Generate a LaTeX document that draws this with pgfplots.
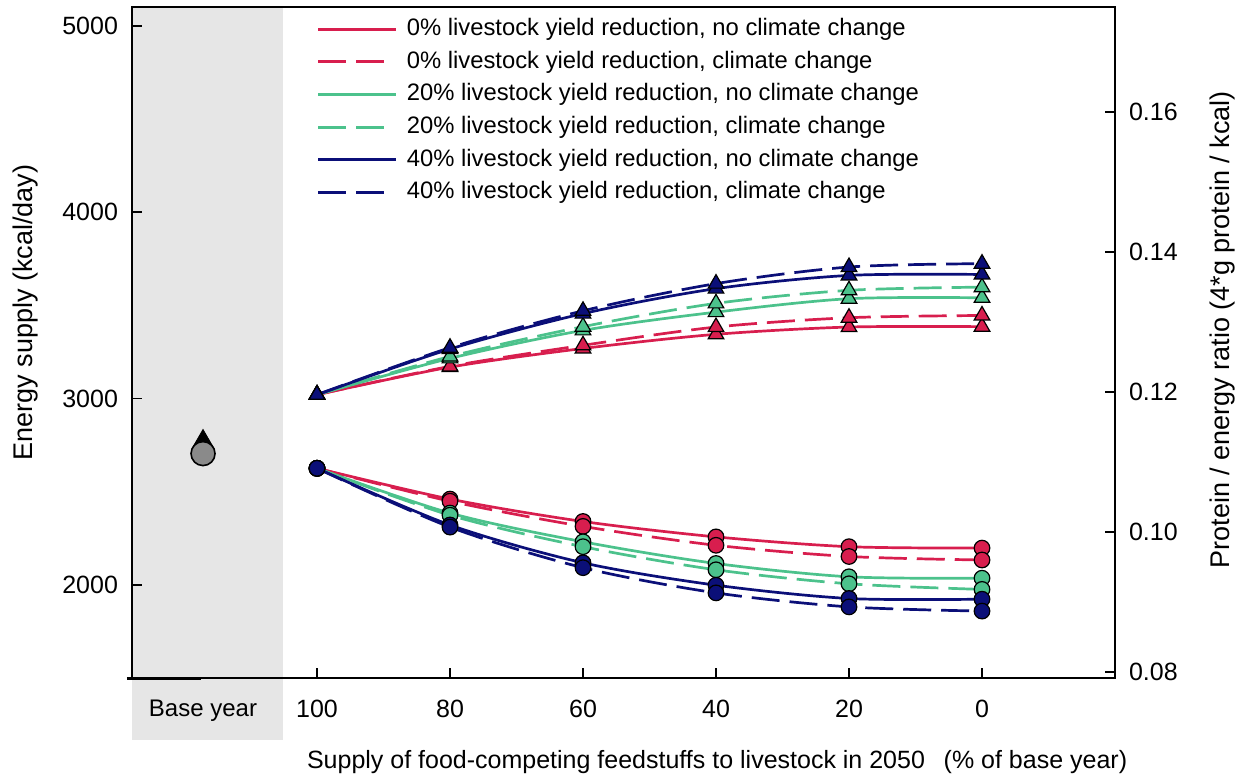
\documentclass[border=0pt]{standalone}
\usepackage{fontspec}
\setmainfont{Liberation Sans}
\usepackage{pgfplots}
\pgfplotsset{compat=1.18}

\definecolor{cred}{HTML}{D81E4E}
\definecolor{cgreen}{HTML}{4CC28C}
\definecolor{cblue}{HTML}{0B0F78}
\definecolor{bandgray}{HTML}{E6E6E6}
\definecolor{basegray}{HTML}{8A8A8A}

% x position: 0 = 100 % of base-year feed supply, 100 = 0 %
% Energy supply (kcal/day)
\pgfplotstableread{
x  rs    rd    gs    gd    bs    bd
0   3020  3020  3020  3020  3020  3020
20  3168  3172  3215  3225  3265  3272
40  3268  3285  3365  3385  3455  3470
60  3344  3383  3463  3510  3589  3616
80  3383  3433  3535  3580  3660  3705
100 3385  3445  3540  3597  3665  3723
}\energy
% Protein / energy ratio
\pgfplotstableread{
x  rs     rd     gs     gd     bs     bd
0   0.1091 0.1091 0.1091 0.1091 0.1091 0.1091
20  0.1047 0.1044 0.1027 0.1024 0.1010 0.1007
40  0.1015 0.1008 0.0986 0.0979 0.0956 0.0949
60  0.0993 0.0981 0.0955 0.0946 0.0924 0.0913
80  0.0979 0.0965 0.0936 0.0926 0.0905 0.0893
100 0.0977 0.0960 0.0934 0.0918 0.0904 0.0887
}\ratio

\pgfplotsset{
  common/.style={
    width=491.5pt, height=335.5pt, scale only axis,
    xmin=-27.82, xmax=120, clip=false,
    axis line style={line width=0.9pt},
    tick style={line width=0.9pt, black},
    major tick length=5pt, tick align=inside,
    /pgf/number format/assume math mode=true,
    /pgf/number format/1000 sep={},
    tick label style={font=\fontsize{12.5}{14}\selectfont},
    label style={font=\fontsize{13.5}{16}\selectfont},
  },
  curve/.style={line width=1.35pt, smooth, tension=0.5, no marks, color=#1},
  cc/.style={dash pattern=on 14pt off 5pt,
    legend image code/.code={\draw[##1, line width=1.45pt] (0pt,0pt) -- (33pt,0pt);}},
  tri/.style={only marks, mark=triangle*, mark size=4.5pt,
    mark options={draw=black, line width=0.6pt, fill=#1, solid}, forget plot},
  circ/.style={only marks, mark=*, mark size=3.9pt,
    mark options={draw=black, line width=0.6pt, fill=#1, solid}, forget plot},
}

\begin{document}
\begin{tikzpicture}
\begin{axis}[common, axis on top,
  ymin=1500, ymax=5100,
  ytick={2000,3000,4000,5000},
  xtick={0,20,40,60,80,100},
  xticklabels={100,80,60,40,20,0},
  extra x ticks={-17.14},
  extra x tick labels={Base year},
  extra x tick style={major tick length=0pt,
    tick label style={font=\fontsize{12}{14}\selectfont}},
  xtick pos=bottom, ytick pos=left,
  xticklabel style={yshift=-7.5pt},
  yticklabel style={xshift=-3.5pt},
  ylabel={Energy supply (kcal/day)},
  ylabel style={at={(axis description cs:-0.1088,0.545)}, anchor=center},
  xlabel={Supply of food-competing feedstuffs to livestock in 2050\hspace{0.75em}(\% of base year)},
  xlabel style={at={(axis description cs:0.1709,-0.125)}, anchor=west,
    font=\fontsize{12.5}{14}\selectfont},
  legend style={at={(axis description cs:0.1882,0.9841)}, anchor=north west,
    draw=none, fill=none, inner sep=0pt, outer sep=0pt, row sep=4.7pt,
    font=\fontsize{11.9}{14}\selectfont,
    nodes={inner sep=0pt, text height=9pt, text depth=2.6pt},
    /tikz/every odd column/.append style={column sep=4.5pt}},
  legend cell align=left,
  legend image code/.code={\draw[#1, line width=1.45pt] (0pt,0pt) -- (39pt,0pt);},
]
  % base-year column
  \fill[bandgray] (axis cs:-27.82,5100) rectangle (axis cs:-5.11,1167);
  \draw[line width=1.5pt] (axis cs:-28.6,1500) -- (axis cs:-17.4,1500);

  \addplot[curve=cred]       table[x=x,y=rs] {\energy};
  \addlegendentry{0\% livestock yield reduction, no climate change}
  \addplot[curve=cred, cc]   table[x=x,y=rd] {\energy};
  \addlegendentry{0\% livestock yield reduction, climate change}
  \addplot[curve=cgreen]     table[x=x,y=gs] {\energy};
  \addlegendentry{20\% livestock yield reduction, no climate change}
  \addplot[curve=cgreen, cc] table[x=x,y=gd] {\energy};
  \addlegendentry{20\% livestock yield reduction, climate change}
  \addplot[curve=cblue]      table[x=x,y=bs] {\energy};
  \addlegendentry{40\% livestock yield reduction, no climate change}
  \addplot[curve=cblue, cc]  table[x=x,y=bd] {\energy};
  \addlegendentry{40\% livestock yield reduction, climate change}

  \addplot[tri=cred]   table[x=x,y=rs] {\energy};
  \addplot[tri=cred]   table[x=x,y=rd] {\energy};
  \addplot[tri=cgreen] table[x=x,y=gs] {\energy};
  \addplot[tri=cgreen] table[x=x,y=gd] {\energy};
  \addplot[tri=cblue]  table[x=x,y=bs] {\energy};
  \addplot[tri=cblue]  table[x=x,y=bd] {\energy};

  \addplot[only marks, mark=triangle*, mark size=5.8pt,
    mark options={draw=black, fill=black}, forget plot]
    coordinates {(-17.14,2771)};
\end{axis}

\begin{axis}[common,
  ymin=0.07914, ymax=0.1750,
  axis x line=none, axis y line*=right,
  ytick={0.08,0.10,0.12,0.14,0.16},
  yticklabel style={/pgf/number format/fixed, /pgf/number format/fixed zerofill,
    /pgf/number format/precision=2, xshift=3.5pt},
  ylabel={Protein / energy ratio (4*g protein / kcal)},
  ylabel style={at={(axis description cs:1.1089,0.519)}, anchor=center},
]
  \addplot[curve=cred]       table[x=x,y=rs] {\ratio};
  \addplot[curve=cred, cc]   table[x=x,y=rd] {\ratio};
  \addplot[curve=cgreen]     table[x=x,y=gs] {\ratio};
  \addplot[curve=cgreen, cc] table[x=x,y=gd] {\ratio};
  \addplot[curve=cblue]      table[x=x,y=bs] {\ratio};
  \addplot[curve=cblue, cc]  table[x=x,y=bd] {\ratio};

  \addplot[circ=cred]   table[x=x,y=rs] {\ratio};
  \addplot[circ=cred]   table[x=x,y=rd] {\ratio};
  \addplot[circ=cgreen] table[x=x,y=gs] {\ratio};
  \addplot[circ=cgreen] table[x=x,y=gd] {\ratio};
  \addplot[circ=cblue]  table[x=x,y=bs] {\ratio};
  \addplot[circ=cblue]  table[x=x,y=bd] {\ratio};

  \addplot[only marks, mark=*, mark size=6pt,
    mark options={draw=black, line width=0.8pt, fill=basegray}, forget plot]
    coordinates {(-17.14,0.1112)};
\end{axis}
\pgfresetboundingbox
\useasboundingbox (-66pt,-50pt) rectangle (556.5pt,339pt);
\end{tikzpicture}
\end{document}
